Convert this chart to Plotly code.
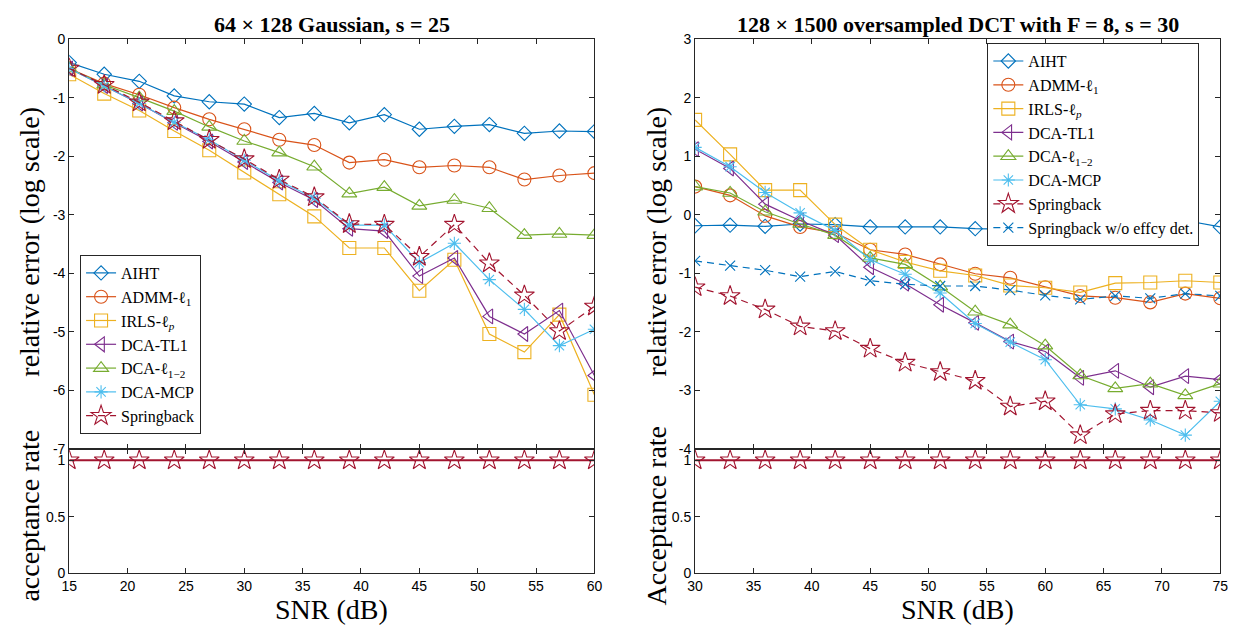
import plotly.graph_objects as go

# ---------------- data: 64x128 Gaussian, s = 25 ----------------
snr_gauss = [15, 18, 21, 24, 27, 30, 33, 36, 39, 42, 45, 48, 51, 54, 57, 60]
aiht_g = [-0.40, -0.60, -0.72, -0.97, -1.07, -1.11, -1.34, -1.27, -1.43, -1.29,
          -1.54, -1.49, -1.46, -1.61, -1.57, -1.58]
admm_g = [-0.50, -0.76, -0.95, -1.17, -1.37, -1.54, -1.72, -1.81, -2.11, -2.06,
          -2.19, -2.16, -2.19, -2.40, -2.33, -2.29]
irls_g = [-0.60, -0.93, -1.22, -1.57, -1.90, -2.28, -2.65, -3.03, -3.57, -3.57,
          -4.30, -3.77, -5.04, -5.35, -4.71, -6.08]
tl1_g = [-0.50, -0.80, -1.10, -1.43, -1.75, -2.10, -2.45, -2.75, -3.24, -3.28,
         -4.05, -3.74, -4.74, -5.04, -4.64, -5.75]
l12_g = [-0.50, -0.78, -1.00, -1.23, -1.50, -1.74, -1.94, -2.18, -2.64, -2.53,
         -2.85, -2.75, -2.89, -3.35, -3.33, -3.35]
mcp_g = [-0.50, -0.80, -1.10, -1.42, -1.72, -2.07, -2.42, -2.72, -3.18, -3.18,
         -3.82, -3.49, -4.11, -4.62, -5.24, -4.96]
spring_g = [-0.50, -0.78, -1.08, -1.40, -1.72, -2.05, -2.40, -2.70, -3.16, -3.17,
            -3.72, -3.17, -3.83, -4.38, -4.99, -4.57]
accept_g = [1, 1, 1, 1, 1, 1, 1, 1, 1, 1, 1, 1, 1, 1, 1, 1]

# ---------------- data: 128x1500 oversampled DCT, F = 8, s = 30 ----------------
snr_dct = [30, 33, 36, 39, 42, 45, 48, 51, 54, 57, 60, 63, 66, 69, 72, 75]
aiht_d = [-0.19, -0.18, -0.20, -0.16, -0.17, -0.21, -0.21, -0.21, -0.24, -0.25,
          -0.19, -0.21, -0.17, -0.19, -0.10, -0.21]
admm_d = [0.48, 0.33, -0.02, -0.21, -0.31, -0.60, -0.68, -0.85, -1.01, -1.08,
          -1.24, -1.39, -1.42, -1.50, -1.35, -1.43]
irls_d = [1.62, 1.03, 0.42, 0.42, -0.17, -0.60, -0.81, -0.96, -1.04, -1.21,
          -1.25, -1.33, -1.17, -1.16, -1.13, -1.16]
tl1_d = [1.12, 0.79, 0.18, -0.10, -0.35, -0.90, -1.18, -1.54, -1.85, -2.17,
         -2.34, -2.79, -2.67, -2.95, -2.76, -2.82]
l12_d = [0.48, 0.37, 0.05, -0.16, -0.35, -0.74, -0.85, -1.23, -1.66, -1.88,
         -2.24, -2.75, -2.97, -2.89, -3.09, -2.89]
mcp_d = [1.15, 0.82, 0.38, 0.03, -0.27, -0.77, -1.02, -1.34, -1.86, -2.18,
         -2.48, -3.25, -3.32, -3.51, -3.77, -3.19]
spring_d = [-1.24, -1.39, -1.62, -1.91, -1.99, -2.29, -2.53, -2.69, -2.84, -3.28,
            -3.19, -3.77, -3.41, -3.35, -3.35, -3.39]
spring_noeff_d = [-0.79, -0.87, -0.95, -1.06, -0.97, -1.13, -1.19, -1.22, -1.22, -1.29,
                  -1.38, -1.45, -1.39, -1.43, -1.35, -1.39]
accept_d = [1, 1, 1, 1, 1, 1, 1, 1, 1, 1, 1, 1, 1, 1, 1, 1]

# ---------------- tick labels ----------------
err_ticks_g = [0, -1, -2, -3, -4, -5, -6, -7]
err_labels_g = ["0", "-1", "-2", "-3", "-4", "-5", "-6", "-7"]
err_ticks_d = [3, 2, 1, 0, -1, -2, -3, -4]
err_labels_d = ["3", "2", "1", "0", "-1", "-2", "-3", "-4"]
acc_ticks = [0, 0.5, 1]
acc_labels = ["0", "0.5", "1"]

# ---------------- styling ----------------
W, H = 1252, 635
SERIF = "Liberation Serif"
SANS = "Liberation Sans"
AX = "#262626"

methods = [
    # name, color, symbol, size, dash
    ("AIHT", "#0072BD", "diamond-open", 11, "solid"),
    ("ADMM-ℓ<sub>1</sub>", "#D95319", "circle-open", 13, "solid"),
    ("IRLS-ℓ<sub><i>p</i></sub>", "#EDB120", "square-open", 13, "solid"),
    ("DCA-TL1", "#7E2F8E", "triangle-left-open", 13, "solid"),
    ("DCA-ℓ<sub>1−2</sub>", "#77AC30", "triangle-up-open", 13, "solid"),
    ("DCA-MCP", "#4DBEEE", "asterisk-open", 11, "solid"),
    ("Springback", "#A2142F", "star-open", 15, "7px,5px"),
]

fig = go.Figure()


def add_series(x, y, style, xa, ya, legend):
    name, color, symbol, size, dash = style
    fig.add_trace(go.Scatter(
        x=x, y=y, name=name, mode="lines+markers",
        xaxis=xa, yaxis=ya, legend=legend,
        line=dict(color=color, width=1.2, dash=dash),
        marker=dict(symbol=symbol, size=size, color=color,
                    line=dict(color=color, width=1.1)),
    ))


gauss_series = [aiht_g, admm_g, irls_g, tl1_g, l12_g, mcp_g, spring_g]
for style, ys in zip(methods, gauss_series):
    add_series(snr_gauss, ys, style, "x", "y", "legend")

dct_series = [aiht_d, admm_d, irls_d, tl1_d, l12_d, mcp_d, spring_d]
for style, ys in zip(methods, dct_series):
    add_series(snr_dct, ys, style, "x3", "y3", "legend2")
add_series(snr_dct, spring_noeff_d,
           ("Springback w/o effcy det.", "#0072BD", "x-thin-open", 10, "7px,5px"),
           "x3", "y3", "legend2")

# acceptance rate panels
for x, acc, xa, ya in [(snr_gauss, accept_g, "x2", "y2"), (snr_dct, accept_d, "x4", "y4")]:
    fig.add_trace(go.Scatter(
        x=x, y=acc, mode="lines+markers", showlegend=False,
        xaxis=xa, yaxis=ya,
        line=dict(color="#A2142F", width=2),
        marker=dict(symbol="star-open", size=15, color="#A2142F",
                    line=dict(color="#A2142F", width=1.1)),
    ))

# ---------------- axes geometry (pixels -> paper) ----------------
def px_x(a, b):
    return [a / W, b / W]


def px_y(top, bottom):
    return [(H - bottom) / H, (H - top) / H]


left_dom = px_x(62, 594)
right_dom = px_x(696, 1228)
top_dom = px_y(32, 452)
bot_dom = px_y(452, 580)

common = dict(showline=True, linecolor=AX, linewidth=1, mirror="ticks",
              ticks="inside", ticklen=5, tickcolor=AX, showgrid=False,
              zeroline=False, tickfont=dict(family=SANS, size=14, color="black"))

fig.update_layout(
    width=W, height=H, margin=dict(l=0, r=0, t=0, b=0),
    paper_bgcolor="white", plot_bgcolor="white", showlegend=True,
    xaxis=dict(domain=left_dom, anchor="y", range=[15, 60], dtick=5,
               showticklabels=False, **common),
    yaxis=dict(domain=top_dom, anchor="x", range=[-7, 0],
               tickvals=err_ticks_g, ticktext=err_labels_g, **common),
    xaxis2=dict(domain=left_dom, anchor="y2", range=[15, 60], dtick=5, **common),
    yaxis2=dict(domain=bot_dom, anchor="x2", range=[0, 1.1034],
                tickvals=acc_ticks, ticktext=acc_labels, **common),
    xaxis3=dict(domain=right_dom, anchor="y3", range=[30, 75], dtick=5,
                showticklabels=False, **common),
    yaxis3=dict(domain=top_dom, anchor="x3", range=[-4, 3],
                tickvals=err_ticks_d, ticktext=err_labels_d, **common),
    xaxis4=dict(domain=right_dom, anchor="y4", range=[30, 75], dtick=5, **common),
    yaxis4=dict(domain=bot_dom, anchor="x4", range=[0, 1.1034],
                tickvals=acc_ticks, ticktext=acc_labels, **common),
    legend=dict(x=73 / W, y=(H - 437) / H, xanchor="left", yanchor="bottom",
                bgcolor="white", bordercolor=AX, borderwidth=1,
                font=dict(family=SERIF, size=16, color="black"),
                tracegroupgap=0, itemwidth=30),
    legend2=dict(x=992 / W, y=(H - 36) / H, xanchor="left", yanchor="top",
                 bgcolor="white", bordercolor=AX, borderwidth=1,
                 font=dict(family=SERIF, size=16, color="black"),
                 tracegroupgap=0, itemwidth=30),
)

# ---------------- titles and axis labels ----------------
def note(text, x, y, size, angle=0, bold=False):
    fig.add_annotation(
        text=f"<b>{text}</b>" if bold else text,
        x=x / W, y=(H - y) / H, xref="paper", yref="paper",
        xanchor="center", yanchor="middle", showarrow=False, textangle=angle,
        font=dict(family=SERIF, size=size, color="black"),
    )


note("64 × 128 Gaussian, s = 25", 328, 17, 22, bold=True)
note("128 × 1500 oversampled DCT with F = 8, s = 30", 962, 17, 22, bold=True)
note("relative error (log scale)", 22, 240, 28, angle=-90)
note("acceptance rate", 22, 521, 28, angle=-90)
note("relative error (log scale)", 657, 240, 28, angle=-90)
note("Acceptance rate", 657, 521, 28, angle=-90)
note("SNR (dB)", 328, 617, 28)
note("SNR (dB)", 962, 617, 28)

fig.write_html("out.html")
